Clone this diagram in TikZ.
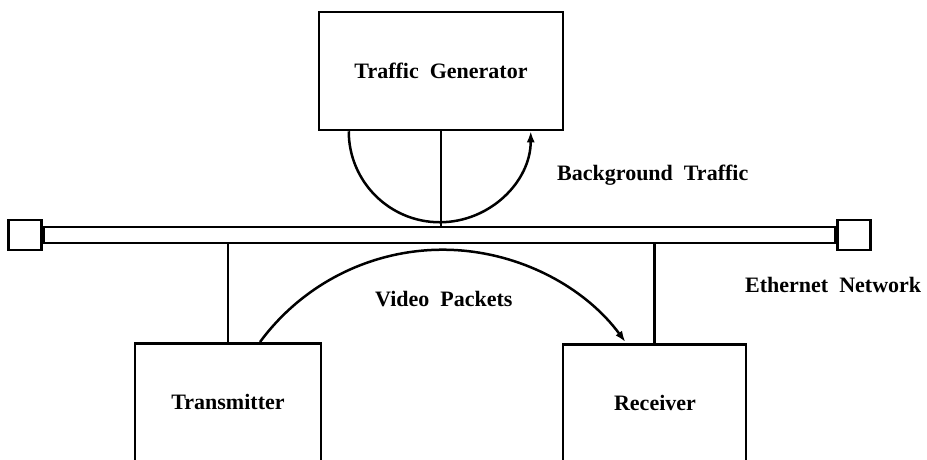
\documentclass[tikz,border=0pt]{standalone}
\usepackage{fontspec}
\setmainfont{Liberation Serif}
\usetikzlibrary{arrows.meta}
\begin{document}
\begin{tikzpicture}[x=1pt,y=1pt,
  box/.style={draw, line width=2.5pt, inner sep=0pt},
  lbl/.style={font=\fontsize{22}{26}\selectfont\bfseries, inner sep=0pt},
  wire/.style={line width=2.5pt},
  arr/.style={line width=2.5pt, -{Latex[length=11pt,width=8pt]}}]
\useasboundingbox (0,0) rectangle (927,-459);
\clip (0,0) rectangle (927,-459);
% boxes
\node[box, minimum width=244pt, minimum height=118pt] (tg) at (441,-71) {};
\node[lbl] (tgl) at (tg.center) {Traffic\ \ Generator};
\node[box, minimum width=791pt, minimum height=16pt] (bus) at (439.5,-235) {};
\node[box, minimum width=33pt, minimum height=30pt, anchor=east] (le) at (bus.west) {};
\node[box, minimum width=33pt, minimum height=30pt, anchor=west] (re) at (bus.east) {};
\node[box, minimum width=186pt, minimum height=160pt, anchor=north] (tx) at (228,-342) {};
\node[lbl] (txl) at (228,-402) {Transmitter};
\node[box, minimum width=183pt, minimum height=160pt, anchor=north] (rx) at (654.5,-343) {};
\node[lbl] (rxl) at (655,-403) {Receiver};
% labels
\node[lbl, anchor=west] (bg) at (557,-175) {Background\ \ Traffic};
\node[lbl, anchor=west] (eth) at (745,-285) {Ethernet\ \ Network};
\node[lbl, anchor=west] (vp) at (375,-299) {Video\ \ Packets};
% connectors
\draw[wire] (tg.south) -- (tg.south |- bus.north);
\draw[wire] (bus.south -| tx.north) -- (tx.north);
\draw[wire] (bus.south -| rx.north) -- (rx.north);
\coordinate (a1) at ([xshift=31pt]tg.south west);
\draw[arr] (a1) arc[start angle=180, end angle=360, radius=91pt];
\coordinate (b1) at ([xshift=32pt]tx.north);
\draw[arr] (b1) arc[start angle=143.6, end angle=36.4, radius=227pt];
\end{tikzpicture}
\end{document}
